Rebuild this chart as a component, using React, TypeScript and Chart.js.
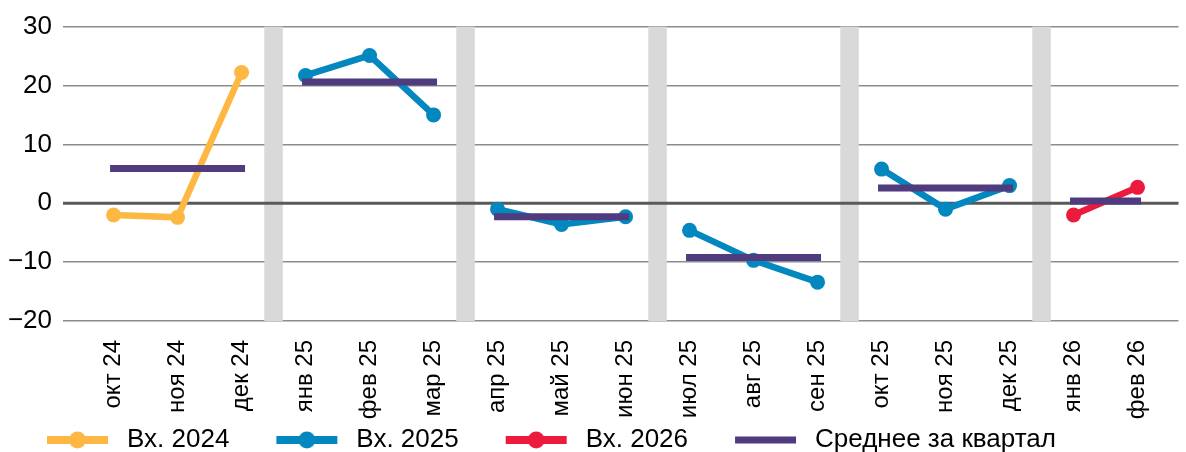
import React, { useEffect, useRef } from 'react';
import { Chart, registerables } from 'chart.js';

Chart.register(...registerables);

// ---- Data ----
const months = [
  'окт 24', 'ноя 24', 'дек 24', 'янв 25', 'фев 25', 'мар 25', 'апр 25', 'май 25', 'июн 25',
  'июл 25', 'авг 25', 'сен 25', 'окт 25', 'ноя 25', 'дек 25', 'янв 26', 'фев 26',
];
const inflow2024 = [-2.0, -2.4, 22.2];
const inflow2025 = [21.7, 25.1, 15.0, -1.0, -3.6, -2.3, -4.6, -9.7, -13.4, 5.8, -1.0, 3.0];
const inflow2026 = [-2.0, 2.7];
const start2024 = 0;
const start2025 = 3;
const start2026 = 15;
const quarterAvg = [5.9, 20.6, -2.3, -9.2, 2.6, 0.4];
const quarterFirst = [0, 3, 6, 9, 12, 15];
const quarterLast = [2, 5, 8, 11, 14, 16];
const separatorAfter = [2, 5, 8, 11, 14];
const yTicks = [-20, -10, 0, 10, 20, 30];
const seriesNames = ['Вх. 2024', 'Вх. 2025', 'Вх. 2026', 'Среднее за квартал'];

// ---- Styles ----
const COLORS = ['#FDB844', '#0288BE', '#EC1B3D', '#4F3B7E'];
const FONT = "'Liberation Sans', Arial, sans-serif";
const SEP_HALF = 0.145;

// series points, broken at each quarter boundary
function toPoints(values: number[], start: number) {
  const pts: { x: number; y: number | null }[] = [];
  values.forEach((v, i) => {
    const idx = start + i;
    if (i > 0 && quarterFirst.includes(idx)) pts.push({ x: idx - 0.5, y: null });
    pts.push({ x: idx, y: v });
  });
  return pts;
}

function avgPoints() {
  const pts: { x: number; y: number | null }[] = [];
  quarterAvg.forEach((v, q) => {
    pts.push({ x: quarterFirst[q], y: v });
    pts.push({ x: quarterLast[q], y: v });
    pts.push({ x: quarterLast[q] + 0.5, y: null });
  });
  return pts;
}

function legendImage(color: string, withPoint: boolean, lineW: number) {
  const c = document.createElement('canvas');
  c.width = 104;
  c.height = 26;
  const g = c.getContext('2d')!;
  g.strokeStyle = color;
  g.lineWidth = lineW;
  g.beginPath();
  g.moveTo(37, 13);
  g.lineTo(98, 13);
  g.stroke();
  if (withPoint) {
    g.fillStyle = color;
    g.beginPath();
    g.arc(67.5, 13, 8.5, 0, Math.PI * 2);
    g.fill();
  }
  return c;
}

const separatorPlugin = {
  id: 'quarterSeparators',
  beforeDatasetsDraw(chart: any) {
    const { ctx, chartArea, scales } = chart;
    const x = scales.x;
    const y = scales.y;
    ctx.save();
    ctx.fillStyle = '#D9D9D9';
    separatorAfter.forEach((i) => {
      const l = x.getPixelForValue(i + 0.5 - SEP_HALF);
      const r = x.getPixelForValue(i + 0.5 + SEP_HALF);
      ctx.fillRect(l, chartArea.top, r - l, chartArea.bottom - chartArea.top);
    });
    const y0 = y.getPixelForValue(0);
    ctx.strokeStyle = '#595959';
    ctx.lineWidth = 3;
    ctx.beginPath();
    ctx.moveTo(chartArea.left, y0);
    ctx.lineTo(chartArea.right, y0);
    ctx.stroke();
    ctx.restore();
  },
};

export default function App() {
  const ref = useRef<HTMLCanvasElement | null>(null);

  useEffect(() => {
    if (!ref.current) return;
    const images = [
      legendImage(COLORS[0], true, 8),
      legendImage(COLORS[1], true, 8),
      legendImage(COLORS[2], true, 8),
      legendImage(COLORS[3], false, 7),
    ];
    const seriesDs = (label: string, data: any[], color: string) => ({
      label,
      data,
      borderColor: color,
      backgroundColor: color,
      borderWidth: 6.5,
      pointRadius: 7.5,
      pointHoverRadius: 7.5,
      pointBackgroundColor: color,
      pointBorderWidth: 0,
      tension: 0,
      spanGaps: false,
      order: 1,
    });
    const chart = new Chart(ref.current, {
      type: 'line',
      data: {
        datasets: [
          seriesDs(seriesNames[0], toPoints(inflow2024, start2024), COLORS[0]),
          seriesDs(seriesNames[1], toPoints(inflow2025, start2025), COLORS[1]),
          seriesDs(seriesNames[2], toPoints(inflow2026, start2026), COLORS[2]),
          {
            label: seriesNames[3],
            data: avgPoints(),
            borderColor: COLORS[3],
            backgroundColor: COLORS[3],
            borderWidth: 7,
            borderCapStyle: 'square',
            pointRadius: 0,
            pointHoverRadius: 0,
            spanGaps: false,
            order: 0,
          } as any,
        ],
      },
      options: {
        responsive: false,
        animation: false,
        events: [],
        layout: { padding: { top: 24, bottom: -11, left: 0, right: 0 } },
        scales: {
          x: {
            type: 'linear',
            min: -0.79,
            max: 16.64,
            grid: { display: false },
            border: { display: false },
            afterBuildTicks: (scale: any) => {
              scale.ticks = months.map((_, i) => ({ value: i }));
            },
            afterFit: (scale: any) => {
              scale.height = 96;
              scale._computeLabelArea = () => undefined;
            },
            ticks: {
              autoSkip: false,
              minRotation: 90,
              maxRotation: 90,
              padding: 11,
              color: '#000',
              font: { family: FONT, size: 24 },
              callback: (v: any) => months[Math.round(Number(v))] ?? '',
            },
          },
          y: {
            min: -20,
            max: 30,
            border: { display: false },
            grid: {
              color: (c: any) => (c.tick && c.tick.value === 0 ? 'rgba(0,0,0,0)' : '#8C8C8C'),
              lineWidth: 1.4,
              drawTicks: false,
            },
            afterBuildTicks: (scale: any) => {
              scale.ticks = yTicks.map((v) => ({ value: v }));
            },
            afterFit: (scale: any) => {
              scale.width = 63;
            },
            ticks: {
              padding: 11,
              color: '#000',
              font: { family: FONT, size: 26 },
              callback: (v: any) => (Number(v) < 0 ? '\u2212' + Math.abs(Number(v)) : String(v)),
            },
          },
        },
        plugins: {
          tooltip: { enabled: false },
          legend: {
            position: 'bottom',
            align: 'start',
            labels: {
              usePointStyle: true,
              pointStyleWidth: 104,
              padding: 10,
              color: '#000',
              font: { family: FONT, size: 26 },
              generateLabels: (ch: any) =>
                ch.data.datasets.map((ds: any, i: number) => ({
                  text: ds.label,
                  pointStyle: images[i],
                  fillStyle: COLORS[i],
                  strokeStyle: COLORS[i],
                  lineWidth: 0,
                  hidden: false,
                  datasetIndex: i,
                  fontColor: '#000',
                })),
            },
          },
        },
      },
      plugins: [separatorPlugin],
    } as any);
    return () => chart.destroy();
  }, []);

  return (
    <div style={{ position: 'fixed', left: 0, top: 0, width: 1186, height: 452, background: '#fff' }}>
      <canvas ref={ref} width={1186} height={452} style={{ display: 'block' }} />
    </div>
  );
}
